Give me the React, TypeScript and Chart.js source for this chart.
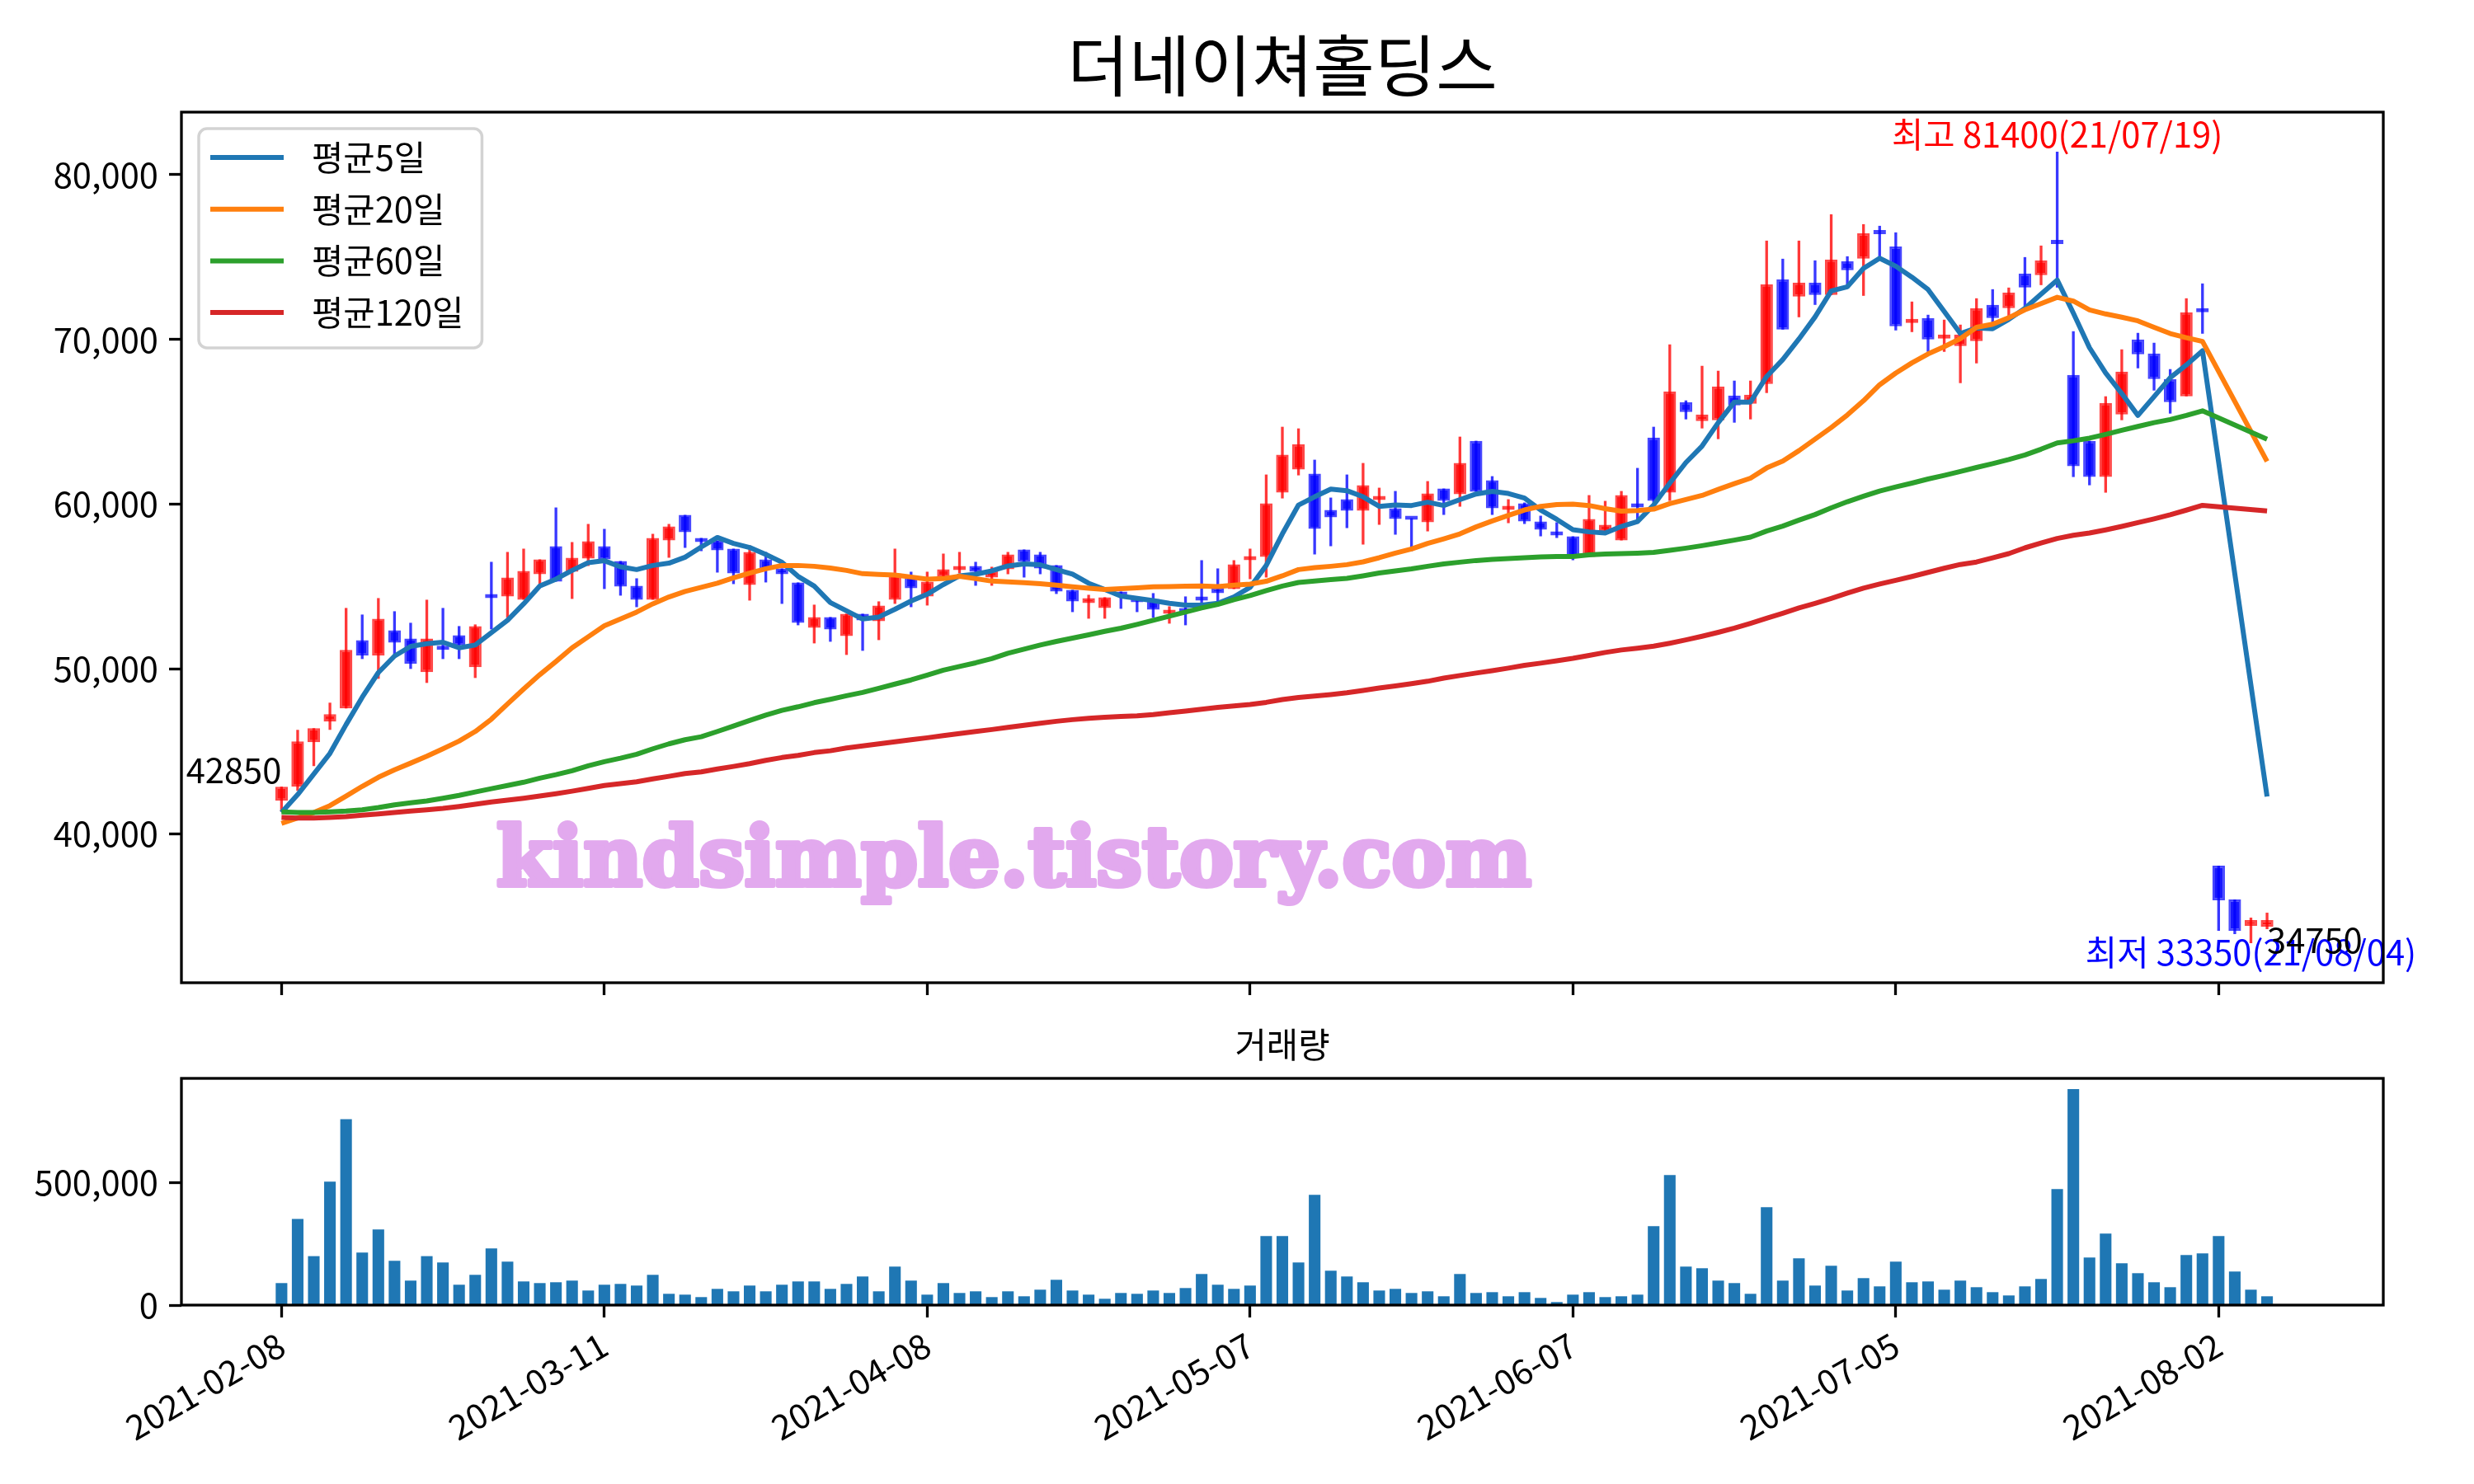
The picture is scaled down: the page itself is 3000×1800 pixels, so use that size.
import React, { useEffect, useRef } from 'react';
import { Chart, registerables } from 'chart.js';

Chart.register(...registerables);

const FONT = "'Noto Sans CJK KR', 'Noto Sans', sans-serif";
Chart.defaults.font.family = FONT;

const TITLE = '더네이쳐홀딩스';
const VOLUME_TITLE = '거래량';
const WATERMARK = 'kindsimple.tistory.com';

const tickIndex = [0, 20, 40, 60, 80, 100, 120];
const tickLabels = ['2021-02-08', '2021-03-11', '2021-04-08', '2021-05-07', '2021-06-07', '2021-07-05', '2021-08-02'];
const priceTicks = [40000, 50000, 60000, 70000, 80000];
const volumeTicks = [0, 500000];

const opens = [
  42000, 42850, 45550, 46800, 47600, 51750, 50800, 52350, 51850, 49800,
  51400, 52050, 50100, 54550, 54400, 54200, 55750, 57450, 55900, 56700,
  57450, 56550, 55050, 54200, 57800, 59350, 57950, 57800, 57300, 55100,
  56650, 56100, 55250, 52500, 53150, 52000, 53350, 52900, 54200, 55650,
  54400, 55600, 56000, 56250, 55550, 56050, 57250, 56950, 56300, 54800,
  54000, 53700, 54700, 54350, 54250, 53350, 53600, 54300, 54900, 54850,
  56600, 56800, 60700, 62100, 61850, 59650, 60300, 59600, 60250, 59750,
  59150, 58900, 60950, 60600, 63850, 61450, 59650, 60050, 58950, 58300,
  58050, 56800, 58350, 57800, 60050, 64050, 60700, 66200, 65050, 65100,
  66600, 66100, 67300, 73650, 72600, 73450, 72700, 74750, 74900, 76650,
  75650, 71000, 71300, 70050, 69600, 69900, 72100, 71900, 74000, 73900,
  75900, 67850, 63850, 61650, 65450, 70000, 69150, 67600, 66550, 71800,
  38050, 36000, 34400, 34350,
];
const highs = [
  42850, 46300, 46400, 47950, 53700, 53300, 54300, 53500, 52800, 54200,
  53700, 52600, 52700, 56500, 57100, 57300, 56650, 59800, 57700, 58800,
  58500, 56550, 55500, 58200, 58800, 59350, 57950, 57800, 57300, 57500,
  57100, 56100, 55250, 53900, 53150, 53350, 53350, 54100, 57300, 55900,
  55900, 57000, 57100, 56500, 56200, 57100, 57250, 57100, 56300, 54800,
  54500, 54350, 54700, 54350, 54600, 53800, 54400, 56600, 56100, 56600,
  57300, 61800, 64700, 64600, 62700, 60400, 61800, 62500, 61000, 60800,
  59150, 61400, 60950, 64100, 63850, 61700, 60300, 60100, 59300, 58900,
  58050, 60550, 60200, 60800, 62200, 64700, 69700, 66300, 68400, 68100,
  67500, 67500, 76000, 74900, 76000, 74800, 77600, 75050, 77000, 76900,
  76500, 72300, 71500, 71200, 70900, 72500, 73050, 73150, 75000, 75700,
  81400, 70500, 63850, 66550, 69400, 70400, 69800, 68200, 72500, 73400,
  38050, 36000, 34900, 35200,
];
const lows = [
  41350, 42600, 44100, 46300, 47600, 50600, 49400, 50800, 50000, 49150,
  50600, 50600, 49450, 52400, 53100, 54200, 55050, 55300, 54250, 56250,
  54850, 54450, 53750, 54200, 56750, 57350, 57150, 55850, 55150, 54150,
  55250, 53950, 52650, 51550, 51650, 50850, 51100, 51750, 53950, 53750,
  53850, 55600, 55800, 55050, 55050, 55750, 55550, 55750, 54550, 53450,
  53050, 53050, 53650, 53450, 53100, 52750, 52650, 53800, 54100, 54850,
  55450, 55550, 60350, 61750, 56950, 57450, 58550, 57550, 58750, 58150,
  57150, 58350, 59350, 59850, 60750, 59350, 58850, 58800, 58050, 57950,
  56600, 56800, 58250, 57800, 59050, 60100, 60200, 65150, 64600, 63950,
  64950, 65150, 66750, 70600, 71350, 72100, 72700, 73300, 72650, 74950,
  70550, 70450, 69250, 69250, 67350, 68550, 70750, 71200, 71900, 73300,
  73150, 61650, 61150, 60700, 65100, 68250, 66900, 65500, 66550, 70350,
  34100, 33900, 33350, 34200,
];
const closes = [
  42850, 45600, 46400, 47250, 51150, 50800, 53050, 51600, 50300, 51850,
  51150, 51450, 52600, 54300, 55550, 55950, 56650, 55300, 56750, 57750,
  56650, 55000, 54200, 57950, 58650, 58300, 57700, 57200, 55800, 57100,
  56050, 55750, 52800, 53150, 52400, 53350, 52950, 53850, 55800, 54900,
  55300, 56050, 56250, 55900, 55950, 56950, 56500, 56100, 54700, 54100,
  54300, 54350, 54450, 54050, 53600, 53550, 53450, 54150, 54600, 56350,
  56750, 60050, 63000, 63650, 58500, 59200, 59600, 61150, 60450, 59100,
  59050, 60650, 60200, 62500, 60750, 59750, 59850, 58950, 58450, 58100,
  56800, 59100, 58750, 60550, 59800, 60200, 66850, 65600, 65450, 67150,
  66000, 66650, 73350, 70600, 73450, 72700, 74850, 74200, 76450, 76400,
  70800, 71150, 70000, 70250, 70300, 71900, 71300, 72850, 73150, 74800,
  75800, 62300, 61650, 66150, 68050, 69100, 67600, 66200, 71650, 71650,
  35950, 34100, 34750, 34750,
];
const volumes = [
  89700, 350800, 199500, 503200, 757600, 214100, 308200, 180500, 99800, 199500,
  173700, 83000, 123300, 230900, 177100, 96400, 89700, 93100, 99800, 59400,
  83000, 86300, 79600, 123300, 46000, 42600, 32600, 66100, 56100, 79600,
  56100, 83000, 96400, 96400, 66100, 86300, 116600, 56100, 156900, 99800,
  42600, 89700, 49400, 56100, 32600, 56100, 35900, 62800, 103100, 59400,
  42600, 25800, 49400, 46000, 59400, 49400, 69500, 126700, 83000, 66100,
  79600, 281300, 281300, 173700, 449400, 140100, 116600, 93100, 59400, 66100,
  49400, 56100, 35900, 126700, 49400, 52700, 35900, 52700, 29200, 12400,
  42600, 52700, 32600, 35900, 42600, 321700, 530100, 156900, 150200, 99800,
  89700, 46000, 399000, 99800, 190600, 79600, 160300, 59400, 109900, 76300,
  177100, 93100, 96400, 62800, 99800, 72900, 52700, 39300, 76300, 106500,
  473000, 879800, 193900, 291400, 170400, 130000, 93100, 72900, 204000, 210700,
  281300, 136800, 62800, 35900,
];

const ma5 = [
  41280, 42370, 43620, 44870, 46620, 48280, 49780, 50780, 51370, 51530,
  51620, 51280, 51450, 52200, 52950, 53950, 55030, 55450, 55980, 56450,
  56570, 56200, 56030, 56280, 56420, 56780, 57400, 57980, 57620, 57370,
  56950, 56480, 55620, 55030, 54030, 53530, 53030, 53150, 53620, 54120,
  54530, 55120, 55650, 55750, 55950, 56250, 56370, 56320, 56030, 55750,
  55200, 54820, 54420, 54280, 54150, 53980, 53870, 53870, 53980, 54370,
  54950, 56280, 58200, 59950, 60450, 60920, 60820, 60450, 59870, 59950,
  59920, 60120, 59920, 60280, 60620, 60780, 60650, 60370, 59650, 59080,
  58450, 58320, 58250, 58650, 58950, 59950, 61280, 62530, 63530, 64950,
  66200, 66200, 67750, 68780, 70030, 71370, 72950, 73200, 74320, 74930,
  74450, 73780, 73030, 71700, 70360, 70700, 70650, 71220, 71890, 72750,
  73610, 71600, 69500, 67970, 66720, 65390, 66530, 67680, 68450, 69310,
  null, null, null, 42250,
];
const ma20 = [
  40620, 40950, 41280, 41700, 42280, 42870, 43420, 43870, 44280, 44700,
  45150, 45620, 46200, 46950, 47870, 48780, 49650, 50450, 51280, 51950,
  52620, 53030, 53450, 53950, 54370, 54700, 54950, 55200, 55530, 55820,
  56080, 56280, 56280, 56230, 56120, 55980, 55780, 55730, 55700, 55580,
  55450, 55480, 55620, 55480, 55330, 55280, 55230, 55170, 55080, 54980,
  54900, 54820, 54870, 54920, 54980, 55000, 55020, 55030, 55000, 55080,
  55150, 55320, 55650, 56030, 56150, 56230, 56330, 56500, 56750, 57030,
  57280, 57620, 57900, 58200, 58620, 58980, 59320, 59650, 59870, 59980,
  60000, 59920, 59730, 59580, 59620, 59700, 60030, 60280, 60530, 60900,
  61250, 61580, 62200, 62620, 63250, 63950, 64650, 65420, 66280, 67250,
  67960, 68580, 69120, 69560, 70050, 70740, 70930, 71320, 71800, 72180,
  72560, 72330, 71800, 71550, 71350, 71130, 70740, 70360, 70110, 69880,
  null, null, null, 62600,
];
const ma60 = [
  41320, 41280, 41280, 41320, 41370, 41450, 41580, 41750, 41870, 41980,
  42150, 42320, 42530, 42730, 42920, 43120, 43370, 43580, 43820, 44120,
  44370, 44580, 44820, 45150, 45450, 45700, 45880, 46200, 46530, 46870,
  47200, 47480, 47700, 47950, 48150, 48370, 48570, 48820, 49080, 49330,
  49620, 49920, 50150, 50370, 50620, 50950, 51200, 51450, 51670, 51870,
  52070, 52280, 52470, 52700, 52950, 53200, 53450, 53700, 53920, 54200,
  54450, 54750, 55030, 55250, 55330, 55420, 55500, 55650, 55820, 55950,
  56070, 56230, 56370, 56480, 56580, 56650, 56700, 56750, 56800, 56820,
  56830, 56920, 56980, 57000, 57030, 57070, 57200, 57330, 57480, 57650,
  57820, 58000, 58370, 58670, 59030, 59370, 59780, 60150, 60480, 60800,
  61050, 61280, 61530, 61750, 61990, 62230, 62460, 62710, 62990, 63340,
  63720, 63850, 64010, 64240, 64490, 64720, 64950, 65140, 65390, 65670,
  null, null, null, 63950,
];
const ma120 = [
  40980, 40950, 40950, 40980, 41030, 41120, 41200, 41280, 41370, 41450,
  41530, 41650, 41780, 41920, 42030, 42150, 42280, 42420, 42580, 42750,
  42920, 43030, 43150, 43320, 43480, 43650, 43750, 43920, 44080, 44250,
  44450, 44620, 44750, 44920, 45030, 45200, 45320, 45450, 45580, 45700,
  45820, 45950, 46080, 46200, 46320, 46450, 46580, 46700, 46820, 46920,
  47000, 47070, 47110, 47150, 47230, 47340, 47440, 47550, 47670, 47750,
  47840, 47970, 48140, 48270, 48350, 48440, 48550, 48690, 48840, 48970,
  49100, 49250, 49440, 49600, 49750, 49890, 50050, 50220, 50350, 50490,
  50640, 50820, 51000, 51150, 51260, 51380, 51560, 51760, 51980, 52220,
  52480, 52770, 53080, 53380, 53700, 53980, 54280, 54600, 54900, 55150,
  55380, 55610, 55860, 56110, 56340, 56490, 56740, 57000, 57350, 57640,
  57920, 58110, 58250, 58440, 58650, 58880, 59110, 59360, 59640, 59930,
  null, null, null, 59590,
];

const maLabels = ['평균5일', '평균20일', '평균60일', '평균120일'];
const maColors = ['#1f77b4', '#ff7f0e', '#2ca02c', '#d62728'];
const maSeries = [ma5, ma20, ma60, ma120];

const annotations = [
  { text: '42850', index: 0, price: 42850, color: '#000000', align: 'right', dy: -20 },
  { text: '최고 81400(21/07/19)', index: 110, price: 81400, color: '#ff0000', align: 'center', dy: -21 },
  { text: '최저 33350(21/08/04)', index: 122, price: 33350, color: '#0000ff', align: 'center', dy: 11 },
  { text: '34750', index: 123, price: 34750, color: '#000000', align: 'left', dy: 24 },
];

const X_MIN = -6.2;
const X_MAX = 130.2;
const W = 3000;
const MAIN_H = 1240;
const VOL_H = 560;
const TICK_FONT = 41.7;

const UP_FILL = 'rgba(255,0,0,0.9)';
const UP_EDGE = 'rgba(255,0,0,0.72)';
const DOWN_FILL = 'rgba(0,0,255,0.9)';
const DOWN_EDGE = 'rgba(0,0,255,0.72)';

const fmt = (v: number) => Math.round(v).toLocaleString('en-US');

const framePlugin = {
  id: 'frame',
  afterDraw(chart: any) {
    const { ctx, chartArea: a } = chart;
    ctx.save();
    ctx.strokeStyle = '#000';
    ctx.lineWidth = 3.3;
    ctx.strokeRect(a.left, a.top, a.right - a.left, a.bottom - a.top);
    ctx.restore();
  },
};

function roundRectPath(ctx: CanvasRenderingContext2D, x: number, y: number, w: number, h: number, r: number) {
  ctx.beginPath();
  ctx.moveTo(x + r, y);
  ctx.lineTo(x + w - r, y);
  ctx.arcTo(x + w, y, x + w, y + r, r);
  ctx.lineTo(x + w, y + h - r);
  ctx.arcTo(x + w, y + h, x + w - r, y + h, r);
  ctx.lineTo(x + r, y + h);
  ctx.arcTo(x, y + h, x, y + h - r, r);
  ctx.lineTo(x, y + r);
  ctx.arcTo(x, y, x + r, y, r);
  ctx.closePath();
}

const mainDecorPlugin = {
  id: 'mainDecor',
  beforeDatasetsDraw(chart: any) {
    const { ctx, chartArea: a } = chart;
    ctx.save();
    const color = '#e2a9ee';
    ctx.fillStyle = color;
    ctx.strokeStyle = color;
    ctx.lineWidth = 6;
    ctx.lineJoin = 'round';
    let size = 100;
    ctx.font = `bold ${size}px 'DejaVu Serif', serif`;
    const target = 1255;
    size = size * target / ctx.measureText(WATERMARK).width;
    ctx.font = `bold ${size}px 'DejaVu Serif', serif`;
    ctx.textAlign = 'left';
    ctx.textBaseline = 'alphabetic';
    ctx.fillText(WATERMARK, a.left + 382, a.top + 938);
    ctx.strokeText(WATERMARK, a.left + 382, a.top + 938);
    ctx.restore();
  },
  afterDraw(chart: any) {
    const { ctx, chartArea: a, scales } = chart;
    ctx.save();
    ctx.fillStyle = '#000';
    ctx.font = `81px ${FONT}`;
    ctx.textAlign = 'center';
    ctx.textBaseline = 'middle';
    ctx.fillText(TITLE, (a.left + a.right) / 2, a.top - 57);

    ctx.font = `${TICK_FONT}px ${FONT}`;
    for (const an of annotations) {
      ctx.fillStyle = an.color;
      ctx.textAlign = an.align as CanvasTextAlign;
      ctx.textBaseline = 'middle';
      const x = scales.x.getPixelForValue(an.index);
      const y = scales.y.getPixelForValue(an.price) + an.dy;
      ctx.fillText(an.text, x, y);
    }

    const lineDs = chart.data.datasets.filter((d: any) => d.type === 'line');
    const boxL = a.left + 21;
    const boxT = a.top + 20;
    const lineX0 = a.left + 35;
    const lineX1 = a.left + 124;
    const textX = a.left + 158;
    const firstY = a.top + 55;
    const step = 62.7;
    const tw = Math.max(...lineDs.map((d: any) => ctx.measureText(d.label).width));
    const boxW = textX + tw + 22 - boxL;
    const boxH = 266;
    roundRectPath(ctx, boxL, boxT, boxW, boxH, 10);
    ctx.fillStyle = 'rgba(255,255,255,0.8)';
    ctx.fill();
    ctx.strokeStyle = '#d3d3d3';
    ctx.lineWidth = 3.5;
    ctx.stroke();
    lineDs.forEach((d: any, i: number) => {
      const y = firstY + step * i;
      ctx.strokeStyle = d.borderColor;
      ctx.lineWidth = 6;
      ctx.beginPath();
      ctx.moveTo(lineX0, y);
      ctx.lineTo(lineX1, y);
      ctx.stroke();
      ctx.fillStyle = '#000';
      ctx.textAlign = 'left';
      ctx.textBaseline = 'middle';
      ctx.fillText(d.label, textX, y);
    });
    ctx.restore();
  },
};

const volDecorPlugin = {
  id: 'volDecor',
  afterDraw(chart: any) {
    const { ctx, chartArea: a } = chart;
    ctx.save();
    ctx.fillStyle = '#000';
    ctx.font = `${TICK_FONT}px ${FONT}`;
    ctx.textAlign = 'center';
    ctx.textBaseline = 'middle';
    ctx.fillText(VOLUME_TITLE, (a.left + a.right) / 2, a.top - 41);
    ctx.restore();
  },
};

const tickGrid = { drawOnChartArea: false, drawTicks: true, tickLength: 15, tickWidth: 3.3, tickColor: '#000', offset: false };

export default function App() {
  const mainRef = useRef<HTMLCanvasElement>(null);
  const volRef = useRef<HTMLCanvasElement>(null);

  useEffect(() => {
    const idx = closes.map((_, i) => i);
    const isUp = (i: number) => closes[i] >= opens[i];
    const lo = Math.min(...lows);
    const hi = Math.max(...highs);
    const margin = (hi - lo) * 0.05;

    const lineDatasets = maSeries.map((s, k) => ({
      type: 'line' as const,
      label: maLabels[k],
      data: s.map((v, i) => ({ x: i, y: v })),
      borderColor: maColors[k],
      backgroundColor: maColors[k],
      borderWidth: 6,
      pointRadius: 0,
      tension: 0,
      spanGaps: true,
      borderJoinStyle: 'round' as const,
      order: 0.4 - k * 0.1,
    }));

    const xScale = (labels: boolean, height: number) => ({
      type: 'linear',
      min: X_MIN,
      max: X_MAX,
      offset: false,
      afterBuildTicks: (axis: any) => {
        axis.ticks = tickIndex.map((v) => ({ value: v }));
      },
      afterFit: (axis: any) => {
        axis.height = height;
      },
      ticks: labels
        ? {
            autoSkip: false,
            maxRotation: 30,
            minRotation: 30,
            padding: 8,
            color: '#000',
            font: { size: TICK_FONT, family: FONT },
            callback: (v: any) => {
              const k = tickIndex.indexOf(Number(v));
              return k >= 0 ? tickLabels[k] : '';
            },
          }
        : { display: false },
      grid: tickGrid,
      border: { display: false },
    });

    const yScale = (min: number, max: number, ticks: number[]) => ({
      type: 'linear',
      min,
      max,
      afterBuildTicks: (axis: any) => {
        axis.ticks = ticks.map((v) => ({ value: v }));
      },
      afterFit: (axis: any) => {
        axis.width = 220;
      },
      ticks: {
        callback: (v: any) => fmt(Number(v)),
        color: '#000',
        font: { size: TICK_FONT, family: FONT },
        padding: 13,
      },
      grid: tickGrid,
      border: { display: false },
    });

    const main = new Chart(mainRef.current!, {
      type: 'bar',
      data: {
        datasets: [
          ...lineDatasets,
          {
            type: 'bar',
            label: 'body',
            data: idx.map((i) => ({ x: i, y: [opens[i], closes[i]] })) as any,
            backgroundColor: idx.map((i) => (isUp(i) ? UP_FILL : DOWN_FILL)),
            borderColor: idx.map((i) => (isUp(i) ? UP_EDGE : DOWN_EDGE)),
            borderWidth: 2.5,
            borderSkipped: false,
            minBarLength: 5,
            grouped: false,
            barPercentage: 0.78,
            categoryPercentage: 1,
            order: 1,
          } as any,
          {
            type: 'bar',
            label: 'wick',
            data: idx.map((i) => ({ x: i, y: [lows[i], highs[i]] })) as any,
            backgroundColor: idx.map((i) => (isUp(i) ? 'rgba(255,0,0,0.78)' : 'rgba(0,0,255,0.78)')),
            borderWidth: 0,
            grouped: false,
            barPercentage: 0.17,
            categoryPercentage: 1,
            order: 2,
          } as any,
        ],
      },
      options: {
        responsive: false,
        devicePixelRatio: 1,
        animation: false,
        events: [],
        layout: { padding: { top: 136, right: 110, left: 0, bottom: 0 } },
        plugins: { legend: { display: false }, tooltip: { enabled: false }, title: { display: false } },
        scales: {
          x: xScale(false, 48),
          y: yScale(lo - margin, hi + margin, priceTicks),
        },
      } as any,
      plugins: [mainDecorPlugin, framePlugin],
    });

    const vmax = Math.max(...volumes);
    const vol = new Chart(volRef.current!, {
      type: 'bar',
      data: {
        datasets: [
          {
            label: VOLUME_TITLE,
            data: idx.map((i) => ({ x: i, y: volumes[i] })) as any,
            backgroundColor: '#1f77b4',
            borderWidth: 0,
            barPercentage: 0.72,
            categoryPercentage: 1,
            grouped: false,
          } as any,
        ],
      },
      options: {
        responsive: false,
        devicePixelRatio: 1,
        animation: false,
        events: [],
        layout: { padding: { top: 68, right: 110, left: 0, bottom: 0 } },
        plugins: { legend: { display: false }, tooltip: { enabled: false }, title: { display: false } },
        scales: {
          x: xScale(true, VOL_H - 343),
          y: yScale(0, vmax * 1.05, volumeTicks),
        },
      } as any,
      plugins: [volDecorPlugin, framePlugin],
    });

    return () => {
      main.destroy();
      vol.destroy();
    };
  }, []);

  return (
    <div style={{ position: 'absolute', left: 0, top: 0, width: W, height: MAIN_H + VOL_H, background: '#fff' }}>
      <canvas ref={mainRef} width={W} height={MAIN_H} style={{ display: 'block', width: W, height: MAIN_H }} />
      <canvas ref={volRef} width={W} height={VOL_H} style={{ display: 'block', width: W, height: VOL_H }} />
    </div>
  );
}
